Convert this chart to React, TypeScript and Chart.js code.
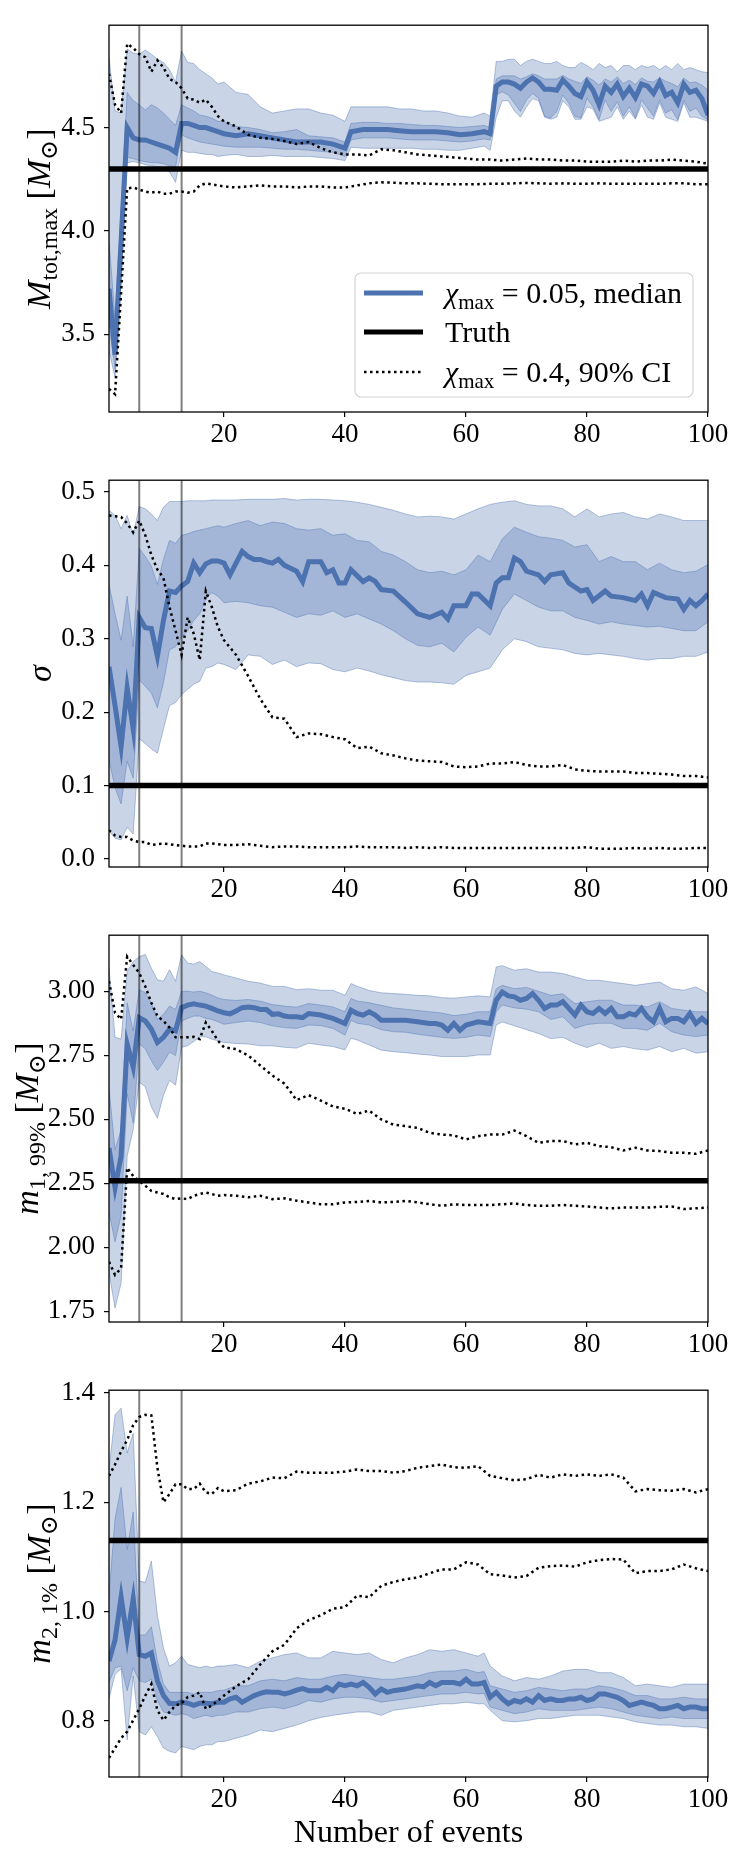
import React, { useEffect, useRef } from "react";
import { Chart, registerables } from "chart.js";

Chart.register(...registerables);

const FONT = "'Liberation Serif', 'DejaVu Serif', serif";
const BLUE = "#4c72b0";
const BAND = "rgba(76,114,176,0.3)";
const BAND_EDGE = "rgba(76,114,176,0.42)";

// shared x values
const EVENT_TICKS = [20, 40, 60, 80, 100];
const VLINES = [6, 13];
const EVEN_X = [1, 2, 3, 4, 5, 6, 7, 8, 9, 10, 11, 12, 13, 14, 15, 16, 17, 18, 19, 20,
  22, 24, 26, 28, 30, 32, 34, 36, 38, 40, 42, 44, 46, 48, 50, 52, 54, 56, 58, 60,
  62, 64, 66, 68, 70, 72, 74, 76, 78, 80, 82, 84, 86, 88, 90, 92, 94, 96, 98, 100];

// ---- panel 1: M_tot,max ----
const MT_X = [1, 2, 3, 4, 5, 6, 7, 8, 9, 10, 11, 12, 13, 14, 15, 16, 17, 18, 19, 20,
  22, 24, 26, 28, 30, 32, 34, 36, 38, 40,
  41, 43, 45, 47, 49, 51, 53, 55, 57, 59, 61, 63, 64,
  65, 66, 67, 68, 69, 70, 71, 72, 73, 74, 75, 76, 77, 78, 79, 80, 81, 82, 83, 84,
  85, 86, 87, 88, 89, 90, 91, 92, 93, 94, 95, 96, 97, 98, 99, 100];
const MT_MED = [3.72, 3.40, 3.95, 4.50, 4.45, 4.44, 4.44, 4.43, 4.42, 4.41, 4.40, 4.38, 4.52, 4.52, 4.51, 4.50, 4.50, 4.49, 4.48, 4.47,
  4.46, 4.47, 4.46, 4.45, 4.44, 4.43, 4.43, 4.43, 4.42, 4.40,
  4.48, 4.49, 4.49, 4.49, 4.485, 4.48, 4.48, 4.48, 4.475, 4.465, 4.47, 4.48, 4.47,
  4.70, 4.72, 4.72, 4.71, 4.69, 4.72, 4.74, 4.72, 4.685, 4.685, 4.68, 4.73, 4.70, 4.665, 4.65, 4.72, 4.68, 4.61, 4.70, 4.67,
  4.71, 4.65, 4.69, 4.645, 4.71, 4.70, 4.665, 4.72, 4.655, 4.67, 4.62, 4.71, 4.67, 4.68, 4.64, 4.56];
const MT_OHI = [4.84, 4.58, 4.57, 4.88, 4.86, 4.855, 4.875, 4.855, 4.83, 4.815, 4.78, 4.72, 4.87, 4.815, 4.81, 4.78, 4.76, 4.74, 4.71, 4.72,
  4.67, 4.66, 4.60, 4.57, 4.58, 4.59, 4.59, 4.57, 4.56, 4.53,
  4.60, 4.60, 4.60, 4.60, 4.59, 4.59, 4.58, 4.58, 4.57, 4.555, 4.55, 4.57, 4.555,
  4.82, 4.82, 4.83, 4.83, 4.80, 4.82, 4.83, 4.82, 4.81, 4.81, 4.82, 4.80, 4.79, 4.79, 4.815, 4.80, 4.78, 4.81, 4.79, 4.80,
  4.77, 4.80, 4.80, 4.78, 4.80, 4.79, 4.80, 4.78, 4.80, 4.78, 4.81, 4.78, 4.79, 4.78, 4.77, 4.765];
const MT_OLO = [3.42, 3.29, 3.74, 4.33, 4.335, 4.33, 4.32, 4.315, 4.31, 4.30, 4.285, 4.235, 4.39, 4.38, 4.38, 4.375, 4.37, 4.37, 4.36, 4.365,
  4.37, 4.36, 4.36, 4.365, 4.36, 4.36, 4.36, 4.355, 4.35, 4.34,
  4.405, 4.40, 4.40, 4.40, 4.40, 4.40, 4.395, 4.395, 4.39, 4.39, 4.40, 4.41, 4.39,
  4.55, 4.63, 4.63, 4.58, 4.55, 4.60, 4.64, 4.63, 4.55, 4.54, 4.55, 4.63, 4.60, 4.54, 4.54, 4.60, 4.59, 4.53, 4.54, 4.55,
  4.60, 4.54, 4.58, 4.54, 4.61, 4.55, 4.54, 4.62, 4.55, 4.54, 4.53, 4.62, 4.55, 4.55, 4.54, 4.53];
const MT_IHI = [3.95, 3.58, 4.10, 4.67, 4.63, 4.61, 4.585, 4.61, 4.595, 4.57, 4.54, 4.51, 4.61, 4.595, 4.58, 4.56, 4.555, 4.545, 4.53, 4.53,
  4.505, 4.50, 4.49, 4.475, 4.48, 4.49, 4.46, 4.455, 4.45, 4.43,
  4.52, 4.525, 4.525, 4.52, 4.52, 4.515, 4.51, 4.51, 4.505, 4.50, 4.505, 4.51, 4.50,
  4.735, 4.75, 4.75, 4.75, 4.735, 4.745, 4.76, 4.75, 4.735, 4.735, 4.735, 4.752, 4.735, 4.724, 4.713, 4.745, 4.729, 4.705, 4.735, 4.72,
  4.745, 4.713, 4.729, 4.708, 4.74, 4.724, 4.72, 4.74, 4.724, 4.713, 4.697, 4.74, 4.717, 4.72, 4.705, 4.68];
const MT_ILO = [3.55, 3.33, 3.85, 4.355, 4.35, 4.34, 4.335, 4.33, 4.33, 4.325, 4.315, 4.31, 4.465, 4.45, 4.44, 4.43, 4.425, 4.42, 4.415, 4.41,
  4.405, 4.405, 4.405, 4.40, 4.395, 4.395, 4.39, 4.385, 4.38, 4.36,
  4.44, 4.45, 4.45, 4.45, 4.445, 4.44, 4.44, 4.44, 4.435, 4.43, 4.435, 4.445, 4.44,
  4.657, 4.673, 4.657, 4.617, 4.578, 4.633, 4.665, 4.641, 4.554, 4.546, 4.578, 4.657, 4.617, 4.554, 4.546, 4.641, 4.60, 4.538, 4.633, 4.578,
  4.625, 4.554, 4.60, 4.546, 4.633, 4.594, 4.554, 4.633, 4.57, 4.586, 4.538, 4.633, 4.578, 4.594, 4.554, 4.538];
const MT_DHI = [4.76, 4.61, 4.57, 4.905, 4.885, 4.855, 4.84, 4.77, 4.825, 4.79, 4.735, 4.72, 4.69, 4.64, 4.635, 4.62, 4.635, 4.60, 4.555, 4.53,
  4.505, 4.465, 4.45, 4.445, 4.435, 4.42, 4.43, 4.40, 4.38, 4.37,
  4.37, 4.365, 4.395, 4.39, 4.38, 4.37, 4.365, 4.36, 4.355, 4.35,
  4.345, 4.345, 4.34, 4.345, 4.35, 4.345, 4.345, 4.34, 4.34, 4.335,
  4.335, 4.335, 4.34, 4.335, 4.34, 4.34, 4.345, 4.34, 4.335, 4.325];
const MT_DLO = [3.236, 3.21, 3.70, 4.205, 4.21, 4.20, 4.19, 4.185, 4.19, 4.18, 4.18, 4.19, 4.19, 4.185, 4.19, 4.22, 4.23, 4.225, 4.22, 4.215,
  4.21, 4.215, 4.22, 4.215, 4.215, 4.21, 4.215, 4.215, 4.21, 4.21,
  4.22, 4.23, 4.235, 4.233, 4.23, 4.23, 4.228, 4.226, 4.226, 4.226,
  4.226, 4.228, 4.228, 4.23, 4.232, 4.23, 4.228, 4.23, 4.228, 4.228,
  4.23, 4.228, 4.228, 4.228, 4.228, 4.228, 4.23, 4.23, 4.226, 4.226];

// ---- panel 2: sigma ----
const SG_MED_X = [1, 2, 3, 4, 5, 6, 7, 8, 9, 10, 11, 12, 13, 14, 15, 16, 17, 18, 19, 20,
  21, 22, 23, 24, 25, 26, 27, 28, 29, 30, 31, 32, 33, 34,
  36, 37, 38, 39, 40, 41, 43, 44, 45, 46, 48, 50, 52, 54, 56, 57, 58, 60, 61, 62, 64,
  65, 66, 67, 68, 69, 70, 72, 73, 74, 76, 77, 79, 80, 81, 83, 84, 86, 87, 88, 89, 90, 91,
  93, 95, 96, 97, 98, 99, 100];
const SG_MED = [0.262, 0.209, 0.153, 0.233, 0.177, 0.329, 0.315, 0.314, 0.276, 0.325, 0.365, 0.363, 0.372, 0.378, 0.403, 0.39, 0.402, 0.406, 0.406, 0.403,
  0.387, 0.403, 0.419, 0.412, 0.408, 0.408, 0.405, 0.403, 0.408, 0.40, 0.396, 0.392, 0.378, 0.405,
  0.405, 0.39, 0.394, 0.376, 0.376, 0.394, 0.378, 0.383, 0.378, 0.367, 0.365, 0.35, 0.334, 0.329, 0.336, 0.327, 0.345, 0.345, 0.361, 0.361, 0.345,
  0.376, 0.383, 0.383, 0.41, 0.405, 0.392, 0.387, 0.378, 0.387, 0.39, 0.376, 0.365, 0.367, 0.352, 0.365, 0.358, 0.356, 0.354, 0.352, 0.361, 0.345, 0.363,
  0.356, 0.354, 0.34, 0.352, 0.345, 0.352, 0.361];
const SG_OHI = [0.475, 0.468, 0.45, 0.468, 0.441, 0.48, 0.477, 0.47, 0.461, 0.479, 0.487, 0.487, 0.487, 0.488, 0.488, 0.488, 0.488, 0.489, 0.489, 0.489,
  0.489, 0.49, 0.49, 0.49, 0.491, 0.489, 0.49, 0.49, 0.489, 0.488,
  0.486, 0.483, 0.479, 0.475, 0.47, 0.466, 0.467, 0.466, 0.463, 0.47,
  0.477, 0.483, 0.486, 0.488, 0.483, 0.481, 0.481, 0.477, 0.466, 0.477,
  0.466, 0.47, 0.472, 0.466, 0.463, 0.47, 0.466, 0.461, 0.461, 0.461];
const SG_OLO = [0.039, 0.028, 0.026, 0.043, 0.034, 0.164, 0.157, 0.15, 0.144, 0.177, 0.209, 0.213, 0.224, 0.231, 0.238, 0.242, 0.26, 0.262, 0.267, 0.265,
  0.258, 0.278, 0.276, 0.265, 0.271, 0.262, 0.267, 0.266, 0.258, 0.255,
  0.26, 0.256, 0.251, 0.247, 0.243, 0.241, 0.241, 0.24, 0.238, 0.25,
  0.255, 0.26, 0.285, 0.30, 0.296, 0.289, 0.287, 0.285, 0.28, 0.278,
  0.28, 0.278, 0.276, 0.273, 0.271, 0.273, 0.273, 0.276, 0.276, 0.282];
const SG_IHI = [0.374, 0.334, 0.298, 0.358, 0.289, 0.423, 0.412, 0.399, 0.374, 0.408, 0.434, 0.43, 0.441, 0.443, 0.446, 0.448, 0.45, 0.452, 0.454, 0.452,
  0.457, 0.461, 0.454, 0.459, 0.457, 0.45, 0.448, 0.45, 0.441, 0.443,
  0.434, 0.432, 0.419, 0.414, 0.405, 0.394, 0.39, 0.392, 0.387, 0.394,
  0.414, 0.405, 0.436, 0.452, 0.445, 0.439, 0.437, 0.434, 0.425, 0.428,
  0.405, 0.412, 0.405, 0.405, 0.394, 0.403, 0.394, 0.39, 0.392, 0.401];
const SG_ILO = [0.135, 0.097, 0.075, 0.133, 0.11, 0.244, 0.235, 0.226, 0.206, 0.24, 0.285, 0.289, 0.302, 0.311, 0.325, 0.334, 0.354, 0.363, 0.358, 0.349,
  0.351, 0.349, 0.345, 0.343, 0.336, 0.329, 0.334, 0.332, 0.338, 0.329,
  0.334, 0.327, 0.32, 0.311, 0.30, 0.291, 0.289, 0.294, 0.282, 0.302,
  0.316, 0.305, 0.34, 0.361, 0.352, 0.343, 0.338, 0.338, 0.329, 0.325,
  0.32, 0.323, 0.32, 0.318, 0.316, 0.317, 0.314, 0.311, 0.311, 0.323];
const SG_DHI = [0.468, 0.467, 0.466, 0.457, 0.445, 0.461, 0.441, 0.414, 0.394, 0.383, 0.343, 0.311, 0.278, 0.329, 0.307, 0.271, 0.365, 0.343, 0.316, 0.298,
  0.278, 0.249, 0.218, 0.193, 0.191, 0.166, 0.171, 0.17, 0.166, 0.163,
  0.151, 0.153, 0.144, 0.141, 0.137, 0.134, 0.133, 0.132, 0.126, 0.125,
  0.126, 0.13, 0.13, 0.132, 0.128, 0.126, 0.126, 0.128, 0.122, 0.12,
  0.119, 0.119, 0.119, 0.117, 0.117, 0.116, 0.115, 0.113, 0.113, 0.111];
const SG_DLO = [0.039, 0.032, 0.03, 0.03, 0.025, 0.023, 0.023, 0.019, 0.02, 0.021, 0.02, 0.019, 0.018, 0.017, 0.017, 0.017, 0.021, 0.021, 0.02, 0.019,
  0.019, 0.02, 0.018, 0.016, 0.017, 0.017, 0.016, 0.016, 0.016, 0.016,
  0.017, 0.016, 0.016, 0.016, 0.015, 0.016, 0.015, 0.016, 0.015, 0.015,
  0.015, 0.015, 0.015, 0.015, 0.015, 0.015, 0.015, 0.015, 0.015, 0.016,
  0.014, 0.014, 0.014, 0.015, 0.014, 0.015, 0.014, 0.014, 0.015, 0.015];

// ---- panel 3: m1, 99% ----
const M1_X = [1, 2, 3, 4, 5, 6, 7, 8, 9, 10, 11, 12, 13, 14, 15, 16, 17, 18, 19, 20,
  22, 24, 26, 28, 30, 32, 34, 36, 38, 40, 41,
  42, 44, 46, 48, 50, 52, 54, 56, 58, 60, 62, 64, 65,
  66, 68, 70, 72, 74, 76, 78, 80, 82, 84, 86, 88, 90, 92, 94, 96, 98, 100];
const M1_OHI = [3.09, 2.82, 2.813, 3.077, 3.116, 3.135, 3.144, 3.09, 3.045, 3.039, 3.084, 3.039, 3.142, 3.11, 3.106, 3.116, 3.097, 3.077, 3.071, 3.064,
  3.052, 3.039, 3.032, 3.019, 3.019, 3.006, 3.01, 3.004, 3.004, 2.984, 3.03,
  3.02, 3.003, 2.994, 2.991, 2.988, 2.984, 2.982, 2.975, 2.973, 2.978, 2.982, 2.978, 3.095,
  3.10, 3.082, 3.088, 3.075, 3.075, 3.069, 3.056, 3.043, 3.043, 3.036, 3.03, 3.023, 3.03, 3.036, 3.01, 3.004, 3.017, 2.991];
const M1_OLO = [1.90, 1.763, 1.86, 2.356, 2.46, 2.646, 2.626, 2.549, 2.504, 2.594, 2.652, 2.633, 2.781, 2.787, 2.804, 2.822, 2.822, 2.813, 2.807, 2.80,
  2.796, 2.794, 2.787, 2.787, 2.781, 2.778, 2.797, 2.79, 2.784, 2.771, 2.816,
  2.81, 2.79, 2.77, 2.764, 2.76, 2.755, 2.751, 2.745, 2.745, 2.745, 2.751, 2.751, 2.868,
  2.88, 2.865, 2.85, 2.835, 2.815, 2.82, 2.797, 2.78, 2.797, 2.777, 2.784, 2.775, 2.77, 2.784, 2.764, 2.777, 2.758, 2.764];
const M1_IHI = [2.62, 2.381, 2.459, 2.955, 2.845, 3.006, 2.994, 2.955, 2.89, 2.91, 2.942, 2.929, 3.0, 3.0, 2.997, 3.0, 2.994, 2.985, 2.974, 2.968,
  2.964, 2.968, 2.961, 2.948, 2.942, 2.938, 2.952, 2.946, 2.939, 2.92, 2.972,
  2.962, 2.955, 2.945, 2.935, 2.93, 2.925, 2.92, 2.915, 2.905, 2.91, 2.92, 2.92, 3.01,
  3.023, 3.01, 3.015, 3.0, 2.984, 2.99, 2.952, 2.959, 2.965, 2.965, 2.946, 2.946, 2.939, 2.959, 2.933, 2.926, 2.92, 2.92];
const M1_ILO = [2.137, 2.021, 2.124, 2.60, 2.485, 2.794, 2.775, 2.729, 2.69, 2.723, 2.762, 2.749, 2.884, 2.894, 2.903, 2.903, 2.894, 2.89, 2.881, 2.871,
  2.878, 2.884, 2.878, 2.865, 2.858, 2.855, 2.868, 2.866, 2.855, 2.829, 2.887,
  2.875, 2.868, 2.85, 2.842, 2.84, 2.832, 2.826, 2.82, 2.816, 2.82, 2.829, 2.823, 2.92,
  2.946, 2.935, 2.93, 2.92, 2.89, 2.90, 2.855, 2.87, 2.875, 2.875, 2.855, 2.855, 2.848, 2.875, 2.842, 2.829, 2.823, 2.829];
const M1_MED_X = [1, 2, 3, 4, 5, 6, 7, 8, 9, 10, 11, 12, 13, 14, 15, 16, 17, 18, 19, 20,
  21, 22, 23, 24, 25, 26, 27, 28, 29, 30, 31, 32, 33, 34,
  36, 38, 40, 41, 42, 43, 44, 45, 46,
  48, 50, 52, 54, 55, 56, 57, 58, 59, 60, 62, 64,
  65, 66, 67, 68, 69, 70, 71, 72, 73, 74, 75, 76, 77, 78, 79, 80, 81, 82, 83, 84,
  85, 86, 87, 88, 89, 90, 91, 92, 93, 94, 95, 96, 97, 98, 99, 100];
const M1_MED = [2.388, 2.233, 2.356, 2.794, 2.704, 2.897, 2.884, 2.852, 2.80, 2.82, 2.852, 2.845, 2.936, 2.946, 2.951, 2.946, 2.942, 2.933, 2.923, 2.916,
  2.912, 2.923, 2.936, 2.938, 2.936, 2.929, 2.929, 2.91, 2.912, 2.903, 2.90, 2.90, 2.897, 2.913,
  2.907, 2.894, 2.874, 2.926, 2.913, 2.907, 2.92, 2.907, 2.887,
  2.887, 2.887, 2.881, 2.874, 2.874, 2.868, 2.848, 2.874, 2.848, 2.868, 2.881, 2.874,
  2.965, 2.997, 2.982, 2.978, 2.965, 2.972, 2.991, 2.965, 2.933, 2.946, 2.946, 2.959, 2.933, 2.907, 2.946, 2.92, 2.913, 2.933, 2.913, 2.933,
  2.90, 2.90, 2.913, 2.907, 2.933, 2.90, 2.881, 2.933, 2.881, 2.894, 2.894, 2.881, 2.913, 2.874, 2.894, 2.874];
const M1_DHI = [3.039, 2.916, 2.89, 3.135, 3.103, 3.071, 3.019, 2.955, 2.903, 2.884, 2.858, 2.82, 2.82, 2.82, 2.822, 2.813, 2.878, 2.845, 2.807, 2.781,
  2.774, 2.749, 2.71, 2.671, 2.639, 2.575, 2.594, 2.573, 2.55, 2.541,
  2.521, 2.534, 2.499, 2.479, 2.473, 2.466, 2.447, 2.44, 2.437, 2.421,
  2.434, 2.44, 2.44, 2.456, 2.434, 2.408, 2.415, 2.415, 2.402, 2.408,
  2.395, 2.391, 2.378, 2.389, 2.378, 2.376, 2.369, 2.369, 2.365, 2.378];
const M1_DLO = [1.943, 1.892, 1.918, 2.311, 2.278, 2.259, 2.24, 2.22, 2.214, 2.208, 2.195, 2.188, 2.191, 2.188, 2.201, 2.208, 2.214, 2.208, 2.201, 2.204,
  2.201, 2.195, 2.201, 2.188, 2.191, 2.182, 2.175, 2.168, 2.168, 2.175,
  2.177, 2.181, 2.175, 2.177, 2.181, 2.175, 2.168, 2.162, 2.168, 2.165,
  2.165, 2.165, 2.168, 2.171, 2.165, 2.162, 2.162, 2.165, 2.162, 2.159,
  2.155, 2.152, 2.155, 2.155, 2.155, 2.158, 2.159, 2.149, 2.152, 2.155];

// ---- panel 4: m2, 1% ----
const M2_X = [1, 2, 3, 4, 5, 6, 7, 8, 9, 10, 11, 12, 13, 14, 15, 16, 17, 18, 19, 20,
  22, 24, 26, 28, 30, 32, 34, 36, 38, 40, 42, 44, 46, 48, 50, 52, 54, 56, 58, 60, 62,
  63, 64,
  66, 68, 70, 72, 74, 76, 78, 80, 82, 84, 86, 88, 90, 92, 94, 96, 98, 100];
const M2_OHI = [1.26, 1.36, 1.372, 1.29, 1.326, 1.056, 1.053, 1.092, 0.993, 0.933, 0.90, 0.906, 0.918, 0.903, 0.90, 0.897, 0.90, 0.897, 0.90, 0.90,
  0.903, 0.897, 0.909, 0.915, 0.921, 0.924, 0.915, 0.915, 0.927, 0.924, 0.921, 0.924, 0.912, 0.906, 0.915, 0.921, 0.93, 0.927, 0.93, 0.924, 0.918,
  0.924, 0.90,
  0.882, 0.873, 0.879, 0.876, 0.882, 0.891, 0.894, 0.894, 0.888, 0.888, 0.879, 0.864, 0.867, 0.864, 0.861, 0.867, 0.867, 0.867];
const M2_OLO = [0.84, 0.885, 0.895, 0.765, 0.882, 0.78, 0.774, 0.789, 0.771, 0.75, 0.744, 0.741, 0.753, 0.75, 0.747, 0.753, 0.756, 0.756, 0.762, 0.762,
  0.768, 0.774, 0.783, 0.78, 0.786, 0.792, 0.80, 0.806, 0.81, 0.813, 0.816, 0.816, 0.81, 0.819, 0.822, 0.825, 0.828, 0.831, 0.831, 0.834, 0.831,
  0.831, 0.819,
  0.80, 0.798, 0.80, 0.804, 0.804, 0.807, 0.81, 0.81, 0.81, 0.807, 0.804, 0.798, 0.795, 0.792, 0.792, 0.789, 0.789, 0.786];
const M2_IHI = [1.03, 1.17, 1.227, 1.113, 1.182, 0.957, 0.957, 0.972, 0.909, 0.867, 0.852, 0.852, 0.852, 0.852, 0.849, 0.852, 0.852, 0.852, 0.855, 0.856,
  0.864, 0.864, 0.873, 0.876, 0.873, 0.879, 0.876, 0.876, 0.882, 0.885, 0.882, 0.879, 0.876, 0.876, 0.879, 0.882, 0.888, 0.891, 0.891, 0.894, 0.888,
  0.89, 0.864,
  0.858, 0.852, 0.855, 0.861, 0.858, 0.855, 0.858, 0.858, 0.864, 0.861, 0.855, 0.846, 0.846, 0.84, 0.84, 0.843, 0.84, 0.84];
const M2_ILO = [0.87, 0.897, 0.90, 0.855, 0.897, 0.873, 0.87, 0.876, 0.837, 0.816, 0.813, 0.81, 0.813, 0.81, 0.804, 0.807, 0.81, 0.807, 0.81, 0.81,
  0.816, 0.816, 0.822, 0.825, 0.822, 0.828, 0.837, 0.834, 0.84, 0.843, 0.843, 0.84, 0.834, 0.837, 0.84, 0.843, 0.846, 0.849, 0.849, 0.852, 0.849,
  0.85, 0.825,
  0.819, 0.813, 0.816, 0.822, 0.819, 0.819, 0.819, 0.822, 0.825, 0.822, 0.816, 0.81, 0.807, 0.804, 0.807, 0.804, 0.804, 0.804];
const M2_MED_X = [1, 2, 3, 4, 5, 6, 7, 8, 9, 10, 11, 12, 13, 14, 15, 16, 17, 18, 19, 20,
  21, 22, 23, 24, 25, 26, 27, 28, 29, 30, 31, 32, 33, 34,
  36, 37, 38, 39, 40, 41, 42, 43, 44, 45, 46, 47, 48,
  50, 51, 52, 53, 54, 55, 56, 58, 59, 60, 61, 62, 63,
  64, 65, 66, 67, 68, 69, 70, 71, 72, 73, 74, 75, 76, 77, 78, 79, 80, 81, 82, 83,
  84, 85, 86, 87, 88, 89, 90, 91, 92, 93, 94, 95, 96, 97, 98, 99, 100];
const M2_MED = [0.909, 0.948, 1.026, 0.951, 1.023, 0.921, 0.918, 0.924, 0.873, 0.846, 0.832, 0.831, 0.834, 0.832, 0.828, 0.832, 0.832, 0.831, 0.834, 0.834,
  0.84, 0.843, 0.834, 0.84, 0.846, 0.85, 0.853, 0.852, 0.852, 0.849, 0.852, 0.856, 0.859, 0.855,
  0.855, 0.861, 0.855, 0.867, 0.864, 0.867, 0.864, 0.87, 0.861, 0.849, 0.858, 0.852, 0.855,
  0.858, 0.861, 0.864, 0.862, 0.87, 0.864, 0.87, 0.87, 0.867, 0.876, 0.867, 0.867, 0.87,
  0.843, 0.852, 0.84, 0.831, 0.837, 0.834, 0.84, 0.834, 0.846, 0.837, 0.84, 0.837, 0.837, 0.84, 0.84, 0.843, 0.837, 0.84, 0.849, 0.849,
  0.846, 0.843, 0.837, 0.828, 0.831, 0.834, 0.831, 0.828, 0.822, 0.822, 0.825, 0.828, 0.822, 0.825, 0.825, 0.822, 0.822];
const M2_DHI = [1.248, 1.269, 1.293, 1.314, 1.341, 1.356, 1.36, 1.359, 1.263, 1.20, 1.215, 1.233, 1.233, 1.224, 1.224, 1.234, 1.218, 1.215, 1.226, 1.22,
  1.222, 1.234, 1.238, 1.245, 1.244, 1.256, 1.254, 1.254, 1.254, 1.256,
  1.26, 1.257, 1.257, 1.254, 1.257, 1.263, 1.266, 1.269, 1.264, 1.263,
  1.266, 1.248, 1.244, 1.24, 1.242, 1.25, 1.245, 1.251, 1.248, 1.251,
  1.248, 1.251, 1.245, 1.22, 1.224, 1.222, 1.221, 1.224, 1.218, 1.224];
const M2_DLO = [0.732, 0.75, 0.768, 0.78, 0.801, 0.822, 0.846, 0.867, 0.819, 0.801, 0.816, 0.828, 0.832, 0.843, 0.846, 0.852, 0.822, 0.828, 0.837, 0.846,
  0.863, 0.876, 0.903, 0.927, 0.939, 0.969, 0.984, 0.993, 1.005, 1.008,
  1.029, 1.026, 1.047, 1.054, 1.059, 1.062, 1.07, 1.077, 1.077, 1.09,
  1.086, 1.068, 1.066, 1.062, 1.065, 1.08, 1.083, 1.084, 1.082, 1.09,
  1.094, 1.096, 1.095, 1.07, 1.074, 1.074, 1.077, 1.086, 1.079, 1.074];

// truth values and axis settings
const TRUTH = [4.3, 0.1, 2.26, 1.13];
const Y_RANGES = [[3.124, 4.995], [-0.011, 0.516], [1.708, 3.219], [0.697, 1.405]];
const Y_TICKS = [[3.5, 4.0, 4.5], [0.0, 0.1, 0.2, 0.3, 0.4, 0.5], [1.75, 2.0, 2.25, 2.5, 2.75, 3.0], [0.8, 1.0, 1.2, 1.4]];
const Y_DIGITS = [1, 1, 2, 1];

type Seg = { t: string; it?: boolean; sub?: boolean };
const SUN: Seg[] = [{ t: " [" }, { t: "M", it: true }, { t: "\u2299", sub: true }, { t: "]" }];
const Y_TITLES: Seg[][] = [
  [{ t: "M", it: true }, { t: "tot,max", sub: true }, ...SUN],
  [{ t: "\u03c3", it: true }],
  [{ t: "m", it: true }, { t: "1, 99%", sub: true }, ...SUN],
  [{ t: "m", it: true }, { t: "2, 1%", sub: true }, ...SUN],
];
const Y_TITLE_X = [50, 51, 38, 50];

const LEGEND_ROWS: Seg[][] = [
  [{ t: "\u03c7", it: true }, { t: "max", sub: true }, { t: " = 0.05, median" }],
  [{ t: "Truth" }],
  [{ t: "\u03c7", it: true }, { t: "max", sub: true }, { t: " = 0.4, 90% CI" }],
];

const pts = (xs: number[], ys: number[]) => ys.map((y, i) => ({ x: xs[i], y }));

const PANELS = [
  { bx: MT_X, oLo: MT_OLO, oHi: MT_OHI, iLo: MT_ILO, iHi: MT_IHI, mx: MT_X, med: MT_MED, dLo: MT_DLO, dHi: MT_DHI },
  { bx: EVEN_X, oLo: SG_OLO, oHi: SG_OHI, iLo: SG_ILO, iHi: SG_IHI, mx: SG_MED_X, med: SG_MED, dLo: SG_DLO, dHi: SG_DHI },
  { bx: M1_X, oLo: M1_OLO, oHi: M1_OHI, iLo: M1_ILO, iHi: M1_IHI, mx: M1_MED_X, med: M1_MED, dLo: M1_DLO, dHi: M1_DHI },
  { bx: M2_X, oLo: M2_OLO, oHi: M2_OHI, iLo: M2_ILO, iHi: M2_IHI, mx: M2_MED_X, med: M2_MED, dLo: M2_DLO, dHi: M2_DHI },
];

function drawSegs(ctx: CanvasRenderingContext2D, segs: Seg[], x: number, y: number, size: number, subSize: number, subDrop: number, center: boolean) {
  const font = (s: Seg) => `${s.it ? "italic " : ""}${s.sub ? subSize : size}px ${FONT}`;
  let total = 0;
  segs.forEach((s) => { ctx.font = font(s); total += ctx.measureText(s.t).width; });
  let cx = center ? x - total / 2 : x;
  segs.forEach((s) => {
    ctx.font = font(s);
    ctx.fillText(s.t, cx, y + (s.sub ? subDrop : 0));
    cx += ctx.measureText(s.t).width;
  });
}

const decor = {
  id: "decor",
  afterDatasetsDraw(chart: any, _a: any, opts: any) {
    const { ctx, chartArea: a } = chart;
    ctx.save();
    ctx.strokeStyle = "#000";
    ctx.lineWidth = 1.3;
    ctx.strokeRect(a.left, a.top, a.right - a.left, a.bottom - a.top);

    // rotated y title
    ctx.fillStyle = "#000";
    ctx.textBaseline = "alphabetic";
    ctx.save();
    ctx.translate(opts.titleX, (a.top + a.bottom) / 2);
    ctx.rotate(-Math.PI / 2);
    drawSegs(ctx, opts.title, 0, 0, 34, 24, 7, true);
    ctx.restore();

    if (opts.legend) {
      const w = 338, h = 124;
      const bx = a.right - 15 - w, by = a.bottom - 15 - h;
      ctx.beginPath();
      ctx.roundRect(bx, by, w, h, 6);
      ctx.fillStyle = "rgba(255,255,255,0.85)";
      ctx.fill();
      ctx.strokeStyle = "#d6d6d6";
      ctx.lineWidth = 1.2;
      ctx.stroke();
      const rows = [20, 59, 99];
      const styles = [
        { c: BLUE, w: 5, d: [] as number[] },
        { c: "#000", w: 5, d: [] as number[] },
        { c: "#000", w: 2.5, d: [2.5, 3.5] },
      ];
      rows.forEach((ry, i) => {
        const y = by + ry;
        ctx.beginPath();
        ctx.setLineDash(styles[i].d);
        ctx.strokeStyle = styles[i].c;
        ctx.lineWidth = styles[i].w;
        ctx.moveTo(bx + 9, y);
        ctx.lineTo(bx + 68, y);
        ctx.stroke();
        ctx.setLineDash([]);
        ctx.fillStyle = "#000";
        drawSegs(ctx, LEGEND_ROWS[i], bx + 90, y + 10, 30, 21, 6, false);
      });
    }
    ctx.restore();
  },
};

function Panel({ idx, top, height, axisH }: { idx: number; top: number; height: number; axisH: number }) {
  const ref = useRef<HTMLCanvasElement | null>(null);

  useEffect(() => {
    if (!ref.current) return;
    const p = PANELS[idx];
    const [yMin, yMax] = Y_RANGES[idx];
    const line = (data: any[], extra: any) => ({
      data,
      pointRadius: 0,
      pointHoverRadius: 0,
      tension: 0,
      fill: false,
      ...extra,
    });
    const edge = { borderColor: BAND_EDGE, borderWidth: 1 };
    const datasets: any[] = [
      line(pts(p.bx, p.oLo), { ...edge, order: 6 }),
      line(pts(p.bx, p.oHi), { ...edge, order: 6, fill: "-1", backgroundColor: BAND }),
      line(pts(p.bx, p.iLo), { ...edge, order: 5 }),
      line(pts(p.bx, p.iHi), { ...edge, order: 5, fill: "-1", backgroundColor: BAND }),
      line(pts(p.mx, p.med), { borderColor: BLUE, borderWidth: 5, order: 4 }),
      line([{ x: 1, y: TRUTH[idx] }, { x: 100, y: TRUTH[idx] }], { borderColor: "#000", borderWidth: 5.5, order: 3 }),
      ...VLINES.map((v) =>
        line([{ x: v, y: yMin }, { x: v, y: yMax }], { borderColor: "rgba(0,0,0,0.5)", borderWidth: 2, order: 2 })
      ),
      line(pts(EVEN_X, p.dLo), { borderColor: "#000", borderWidth: 2.5, borderDash: [2.5, 3.5], order: 1 }),
      line(pts(EVEN_X, p.dHi), { borderColor: "#000", borderWidth: 2.5, borderDash: [2.5, 3.5], order: 1 }),
    ];

    const grid = { display: true, drawOnChartArea: false, drawTicks: true, tickLength: 5, color: "#000", lineWidth: 1.2 };
    const tickFont = { family: FONT, size: 27 };

    const chart = new Chart(ref.current, {
      type: "line",
      data: { datasets },
      plugins: [decor],
      options: {
        animation: false,
        responsive: false,
        events: [],
        layout: { padding: { left: 0, right: 39, top: 19, bottom: 0 } },
        plugins: {
          legend: { display: false },
          tooltip: { enabled: false },
          decor: { title: Y_TITLES[idx], titleX: Y_TITLE_X[idx], legend: idx === 0 },
        } as any,
        scales: {
          x: {
            type: "linear",
            min: 1,
            max: 100,
            afterBuildTicks: (s: any) => { s.ticks = EVENT_TICKS.map((v) => ({ value: v })); },
            afterFit: (s: any) => { s.height = axisH; },
            grid,
            border: { display: false },
            ticks: { font: tickFont, color: "#000", padding: 2, autoSkip: false, maxRotation: 0, callback: (v: any) => String(v) },
            title: {
              display: idx === 3,
              text: "Number of events",
              font: { family: FONT, size: 32 },
              color: "#000",
              padding: { top: 0, bottom: 15 },
            },
          },
          y: {
            type: "linear",
            min: yMin,
            max: yMax,
            afterBuildTicks: (s: any) => { s.ticks = Y_TICKS[idx].map((v) => ({ value: v })); },
            afterFit: (s: any) => { s.width = 109; },
            grid,
            border: { display: false },
            ticks: { font: tickFont, color: "#000", padding: 9, callback: (v: any) => Number(v).toFixed(Y_DIGITS[idx]) },
          },
        },
      },
    });

    return () => chart.destroy();
  }, [idx, axisH]);

  return (
    <canvas
      ref={ref}
      width={747}
      height={height}
      style={{ position: "absolute", left: 0, top, width: 747, height }}
    />
  );
}

export default function App() {
  return (
    <div style={{ position: "absolute", left: 0, top: 0, width: 747, height: 1868, background: "#fff" }}>
      {PANELS.map((_, i) => (
        <Panel key={i} idx={i} top={455 * i} height={i === 3 ? 503 : 455} axisH={i === 3 ? 91 : 43} />
      ))}
    </div>
  );
}
